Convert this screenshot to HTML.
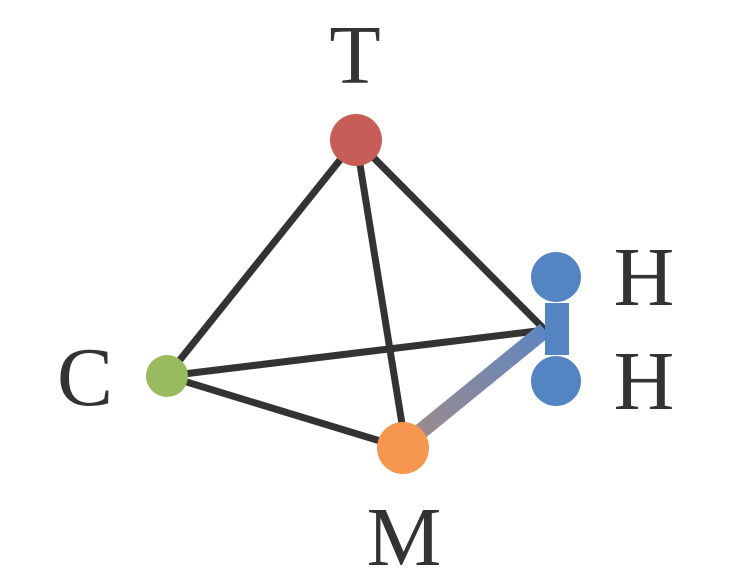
<!DOCTYPE html>
<html><head><meta charset="utf-8"><style>
html,body{margin:0;padding:0;background:#fff;width:731px;height:588px;overflow:hidden}
text{font-family:"Liberation Serif",serif;fill:#333;font-size:84px}
</style></head><body>
<svg id="g" width="731" height="588">
<defs>
<linearGradient id="grad" x1="420" y1="432" x2="545" y2="332" gradientUnits="userSpaceOnUse">
<stop offset="0" stop-color="#9a8a8e"/><stop offset="1" stop-color="#5f86c0"/></linearGradient>
</defs>
</svg>
<script>
const nodes = [
  {id:'T', x:356, y:140, r:26, color:'#c65d57', lx:355, ly:83},
  {id:'C', x:167, y:376, r:21, color:'#98bb5e', lx:85, ly:405},
  {id:'M', x:403, y:448, r:26, color:'#f5974f', lx:404, ly:565},
  {id:'H1', x:556, y:277, r:25, color:'#5584c3', lx:644, ly:305},
  {id:'H2', x:556, y:381, r:25, color:'#5584c3', lx:644, ly:409}
];
const labels = ['T','C','M','H','H'];
const junction = {x:545, y:330};
const edges = [['C','T'],['T','J'],['C','J'],['C','M'],['T','M']];
const svg = document.getElementById('g');
const NS = 'http://www.w3.org/2000/svg';
function pt(id){ if(id==='J') return junction; return nodes.find(n=>n.id===id); }
function mk(tag, attrs){ const e=document.createElementNS(NS,tag); for(const k in attrs) e.setAttribute(k,attrs[k]); svg.appendChild(e); return e; }
edges.forEach(([a,b])=>{
  const p=pt(a), q=pt(b);
  let qx=q.x, qy=q.y;
  if(a==='T'&&b==='M'){ qy=q.y-18; }
  const l=mk('line',{x1:p.x,y1:p.y,x2:qx,y2:qy,stroke:'#333',"stroke-width":7});
  
  
});
const m=pt('M');
const gl=mk('line',{x1:m.x+17,y1:m.y-16,x2:junction.x,y2:junction.y,stroke:'url(#grad)',"stroke-width":16});


const h1=pt('H1'), h2=pt('H2');
const br=mk('rect',{x:h1.x-11,y:h1.y+26,width:24,height:h2.y-h1.y-52,fill:'#5584c3'});


nodes.forEach((n,i)=>{
  const c=mk('circle',{cx:n.x,cy:n.y,r:n.r,fill:n.color});
  
  
  const t=mk('text',{x:n.lx,y:n.ly,"text-anchor":'middle'});
  t.textContent=labels[i];
  
  
});
</script>
</body></html>
